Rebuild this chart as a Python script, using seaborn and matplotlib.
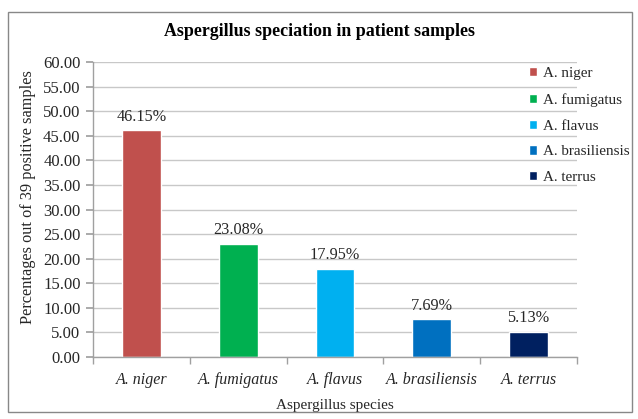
import matplotlib
matplotlib.use("Agg")
import matplotlib.pyplot as plt
import seaborn as sns
import pandas as pd
from matplotlib.patches import Rectangle

species = ["A. niger", "A. fumigatus", "A. flavus", "A. brasiliensis", "A. terrus"]
percentages = [46.15, 23.08, 17.95, 7.69, 5.13]
colors = ["#C0504D", "#00B050", "#00B0F0", "#0070C0", "#002060"]
yticks = [0, 5, 10, 15, 20, 25, 30, 35, 40, 45, 50, 55, 60]

df = pd.DataFrame({"species": species, "pct": percentages})

sns.set_theme(style="white")
plt.rcParams["font.family"] = ["Liberation Serif", "DejaVu Serif"]
txt = "#262626"

fig = plt.figure(figsize=(6.38, 4.19), dpi=100)
ax = fig.add_axes([93/638, 1-357/419, (577-93)/638, (357-62)/419])

sns.barplot(data=df, x="species", y="pct", hue="species", palette=colors,
            width=0.4, dodge=False, legend=True, ax=ax, saturation=1)

ax.set_ylim(0, 60)
ax.set_xlim(-0.5, len(species) - 0.5)
ax.set_yticks(yticks)
ax.set_yticklabels([f"{v:.2f}" for v in yticks], fontsize=12, color=txt)
ax.yaxis.grid(True, color="#C8C8C8", linewidth=1)
ax.set_axisbelow(True)
for s in ["top", "right"]:
    ax.spines[s].set_visible(False)
for s in ["left", "bottom"]:
    ax.spines[s].set_color("#A0A0A0")
    ax.spines[s].set_linewidth(1)

ax.tick_params(axis="y", which="major", length=5, color="#A0A0A0", left=True, pad=4)
ax.set_xticks(range(len(species)))
ax.set_xticklabels(species, fontsize=11.5, style="italic", color=txt)
ax.tick_params(axis="x", which="major", length=0, pad=11)
ax.set_xticks([i - 0.5 for i in range(len(species) + 1)], minor=True)
ax.tick_params(axis="x", which="minor", length=5, color="#A0A0A0", bottom=True)

for i, v in enumerate(percentages):
    ax.annotate(f"{v:.2f}%", (i, v), xytext=(0, 4), textcoords="offset points",
                ha="center", va="bottom", fontsize=11.7, color=txt)

ax.set_xlabel("Aspergillus species", fontsize=11, labelpad=8, color=txt)
ax.set_ylabel("Percentages out of 39 positive samples", fontsize=11.7, color=txt,
              va="center", ha="center")
ax.yaxis.set_label_coords((28 - 93) / 484, (357 - 197) / 295)
fig.text(0.5, 1-31/419, "Aspergillus speciation in patient samples",
         ha="center", va="center", fontsize=12.9, fontweight="bold", color="black")

leg = ax.legend(loc="upper left", bbox_to_anchor=(529/638, 1-67/419),
                bbox_transform=fig.transFigure, frameon=False, fontsize=10.9,
                handlelength=0.55, handleheight=0.55, handletextpad=0.35,
                labelspacing=0.85, borderaxespad=0, borderpad=0)
for t in leg.get_texts():
    t.set_color(txt)

fig.patches.append(Rectangle((8/638, 1-412/419), 624/638, 400/419,
                             transform=fig.transFigure, fill=False,
                             edgecolor="#888888", linewidth=1))

fig.savefig("out.png", dpi=100)
